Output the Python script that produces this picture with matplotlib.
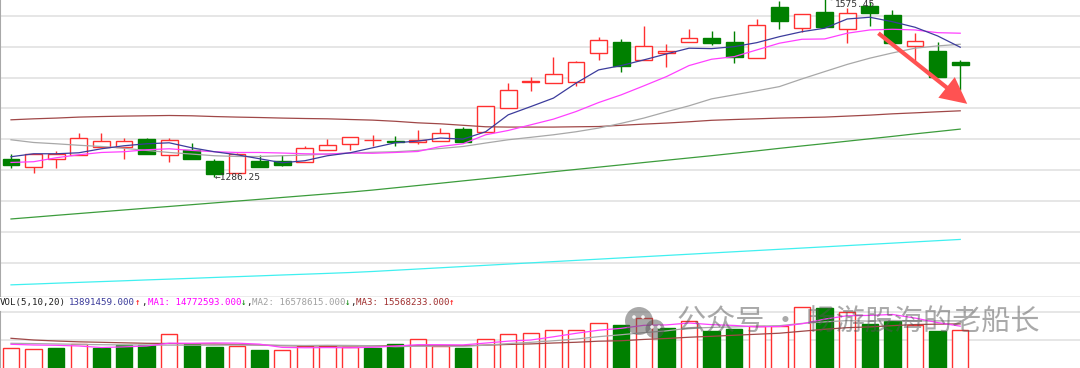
import numpy as np
import pandas as pd
import matplotlib
matplotlib.use('Agg')
import matplotlib.pyplot as plt
from matplotlib.patches import FancyArrowPatch, Circle
from matplotlib.transforms import IdentityTransform

# ---- values (price panel) ----
opens = [1315.4, 1301.6, 1315.4, 1321.9, 1334.9, 1334.9, 1347.8, 1321.9, 1330.0, 1312.2,
         1292.7, 1312.2, 1312.2, 1310.6, 1330.0, 1339.7, 1345.4, 1344.6, 1342.1, 1344.6,
         1364.0, 1359.2, 1398.5, 1439.3, 1438.5, 1439.7, 1486.7, 1505.4, 1475.3, 1487.6,
         1505.4, 1511.0, 1505.4, 1479.0, 1561.2, 1527.2, 1554.0, 1526.0, 1563.3, 1548.2,
         1498.0, 1489.9, 1472.6]
highs = [1323.5, 1323.5, 1328.4, 1357.5, 1357.5, 1349.4, 1349.4, 1349.4, 1341.3, 1315.4,
         1325.1, 1321.9, 1321.9, 1336.5, 1347.8, 1351.1, 1354.3, 1352.7, 1362.4, 1365.6,
         1367.3, 1401.3, 1439.0, 1448.7, 1480.2, 1474.7, 1512.6, 1509.3, 1530.9, 1501.7,
         1525.5, 1522.8, 1523.3, 1542.2, 1571.4, 1550.3, 1575.45, 1559.6, 1569.8, 1556.8,
         1519.1, 1505.0, 1475.8]
lows = [1300.8, 1292.3, 1300.8, 1321.9, 1334.9, 1315.4, 1323.5, 1310.6, 1315.4, 1286.25,
        1292.7, 1302.5, 1304.1, 1310.6, 1330.0, 1330.0, 1336.5, 1335.7, 1339.7, 1344.6,
        1342.1, 1359.2, 1398.5, 1425.6, 1438.5, 1433.7, 1475.3, 1456.8, 1475.3, 1464.0,
        1505.4, 1499.6, 1470.5, 1479.0, 1526.5, 1520.7, 1529.3, 1503.8, 1531.4, 1503.8,
        1470.5, 1447.8, 1427.2]
closes = [1305.7, 1323.5, 1322.5, 1349.4, 1344.6, 1344.0, 1323.5, 1346.2, 1315.4, 1291.1,
          1323.5, 1302.5, 1305.7, 1333.2, 1338.1, 1350.3, 1346.2, 1342.1, 1345.1, 1357.5,
          1342.1, 1401.3, 1427.2, 1441.0, 1452.6, 1472.6, 1508.7, 1466.1, 1498.5, 1490.9,
          1511.0, 1503.8, 1480.2, 1532.5, 1538.5, 1550.3, 1529.7, 1552.4, 1551.5, 1503.8,
          1506.1, 1447.8, 1468.2]

ma5 = [1318.7, 1323.5, 1323.5, 1325.1, 1331.6, 1336.5, 1339.7, 1341.3, 1333.2, 1326.8,
       1321.9, 1315.4, 1308.9, 1312.2, 1320.3, 1325.1, 1333.2, 1341.3, 1344.1, 1349.0,
       1347.3, 1359.2, 1386.7, 1400.1, 1413.8, 1438.1, 1459.6, 1466.6, 1475.8, 1485.5,
       1494.8, 1494.1, 1497.3, 1503.8, 1513.5, 1521.6, 1527.2, 1542.2, 1545.0, 1537.8,
       1528.8, 1514.7, 1496.4]
ma10 = [1309.4, 1310.6, 1317.0, 1321.9, 1325.6, 1326.8, 1330.0, 1331.6, 1328.9, 1326.8,
        1325.6, 1325.6, 1324.7, 1323.5, 1323.0, 1324.7, 1324.3, 1325.6, 1327.2, 1335.3,
        1339.7, 1354.3, 1361.3, 1370.5, 1379.7, 1392.0, 1406.6, 1419.1, 1433.7, 1448.7,
        1466.6, 1476.9, 1481.1, 1492.0, 1502.9, 1509.3, 1509.8, 1519.1, 1524.4, 1525.5,
        1524.4, 1520.0, 1519.1]
ma20 = [1346.2, 1341.8, 1339.7, 1337.3, 1335.3, 1332.4, 1328.9, 1325.6, 1323.0, 1320.3,
        1319.1, 1319.1, 1320.3, 1321.4, 1323.0, 1324.7, 1325.9, 1326.8, 1328.9, 1332.1,
        1335.3, 1340.9, 1346.2, 1350.2, 1354.3, 1359.2, 1365.2, 1372.9, 1381.4, 1391.6,
        1401.3, 1412.6, 1419.1, 1425.6, 1432.5, 1445.0, 1456.8, 1468.5, 1478.6, 1487.1,
        1494.8, 1498.5, 1501.2]
ma60 = [1378.6, 1380.2, 1381.4, 1383.0, 1383.9, 1384.6, 1385.1, 1385.6, 1385.1, 1383.9,
        1383.0, 1382.3, 1381.4, 1380.7, 1380.2, 1379.1, 1378.1, 1376.2, 1373.7, 1372.1,
        1369.7, 1367.3, 1366.8, 1366.8, 1366.8, 1367.3, 1367.7, 1369.7, 1371.6, 1373.3,
        1375.4, 1377.8, 1379.1, 1380.2, 1381.4, 1382.2, 1383.0, 1384.6, 1386.2, 1388.3,
        1389.9, 1391.6, 1393.2]
ma120 = [1217.7, 1220.6, 1223.6, 1226.5, 1229.4, 1232.3, 1235.2, 1238.0, 1240.9, 1243.8,
         1246.7, 1249.6, 1252.6, 1255.5, 1258.4, 1261.3, 1264.6, 1268.3, 1272.0, 1275.7,
         1279.5, 1283.2, 1286.9, 1290.6, 1294.4, 1298.1, 1301.8, 1305.5, 1309.3, 1313.0,
         1316.7, 1320.4, 1324.3, 1328.2, 1332.3, 1336.2, 1340.0, 1343.9, 1347.8, 1351.7,
         1355.8, 1359.6, 1363.5]
ma250 = [1110.8, 1112.1, 1113.5, 1114.8, 1116.1, 1117.4, 1118.8, 1120.1, 1121.4, 1122.8,
         1124.1, 1125.4, 1126.8, 1128.1, 1129.4, 1130.8, 1132.5, 1134.5, 1136.5, 1138.5,
         1140.5, 1142.5, 1144.5, 1146.5, 1148.5, 1150.5, 1152.5, 1154.5, 1156.5, 1158.5,
         1160.5, 1162.5, 1164.5, 1166.5, 1168.5, 1170.5, 1172.5, 1174.5, 1176.5, 1178.5,
         1180.5, 1182.5, 1184.5]

# ---- volume panel (millions) ----
volume_m = [8.83, 8.56, 8.99, 9.99, 8.83, 9.72, 9.72, 12.77, 9.91, 9.26,
            9.45, 8.37, 8.37, 9.45, 9.45, 9.26, 8.99, 9.99, 11.34, 9.45,
            8.99, 11.42, 12.61, 12.88, 13.77, 13.69, 15.58, 15.20, 16.93, 14.31,
            16.28, 13.37, 14.12, 14.93, 14.93, 19.90, 19.63, 18.71, 15.39, 16.20,
            15.04, 13.50, 13.89]
# moving averages before a full window exists
vol_ma5_head = [9.91, 9.72, 9.64, 9.45]
vol_ma10_head = [10.18, 10.10, 10.00, 9.90, 9.80, 9.75, 9.70, 9.68, 9.66]
vol_ma20_head = [11.53, 11.07, 10.80, 10.58, 10.45, 10.31, 10.18, 10.13, 10.04, 9.99,
                 9.86, 9.72, 9.53, 9.48, 9.47, 9.47, 9.48, 9.50, 9.52]

high_label = 1575.45
low_label = 1286.25
header_parts = [('VOL(5,10,20)', '#202020'), ('13891459.000', '#3a3a9a'), ('\u2191', '#ff0000'),
                (',', '#202020'), ('MA1: 14772593.000', '#ff00ff'), ('\u2193', '#008000'),
                (',', '#202020'), ('MA2: 16578615.000', '#a0a0a0'), ('\u2193', '#008000'),
                (',', '#202020'), ('MA3: 15568233.000', '#a03030'), ('\u2191', '#ff0000')]
header_px = [0, 69, 135, 141, 148, 240.5, 246.5, 252, 344.5, 350.5, 356, 449]
watermark = '公众号 · 畅游股海的老船长'

W, H = 1080, 368
RED = '#ff3030'
GREEN = '#008000'
fig = plt.figure(figsize=(W / 100, H / 100), dpi=100)

n = len(closes)
x = np.arange(n)
o, h, l, c = map(np.array, (opens, highs, lows, closes))
xlim = (-0.487, 47.3)

# price panel
ax = fig.add_axes([0, 71.5 / H, 1, 296.5 / H])
ax.set_xlim(*xlim)
ax.set_ylim(1091.9, 1573.0)
ax.set_yticks(np.arange(1147, 1548, 50))
ax.grid(axis='y', color='#e2e2e2', lw=1.2)
ax.set_axisbelow(True)
ax.tick_params(length=0, labelleft=False, labelbottom=False)
for s in ('top', 'right'):
    ax.spines[s].set_visible(False)
ax.spines['left'].set_color('#a8a8a8')
ax.spines['left'].set_linewidth(1.5)
ax.spines['bottom'].set_color('#a0a0a0')
ax.spines['bottom'].set_linewidth(1.0)

up = c >= o
cols = np.where(up, RED, GREEN)
ax.vlines(x, l, h, colors=cols, lw=1, zorder=2)
ax.bar(x, np.abs(c - o), bottom=np.minimum(o, c), width=0.74,
       facecolor=np.where(up, 'white', GREEN), edgecolor=cols, lw=1, zorder=3)

for vals, col in [(ma250, '#40f0f0'), (ma120, '#3c9c3c'), (ma60, '#a04848'),
                  (ma20, '#a8a8a8'), (ma10, '#ff40ff'), (ma5, '#3c3c9c')]:
    ax.plot(x, vals, color=col, lw=0.9, zorder=4)

imax = int(np.argmax(h))
imin = int(np.argmin(l))
ax.annotate(f'{high_label:.2f}', xy=(imax, high_label), xytext=(imax + 0.45, high_label - 9),
            fontsize=6.8, family='DejaVu Sans Mono', color='#333333', va='center', ha='left',
            arrowprops=dict(arrowstyle='-', color='#555555', lw=0.7, shrinkA=0, shrinkB=0),
            annotation_clip=False, zorder=6)
ax.text(imin, low_label - 1.7, f'\u2190{low_label:.2f}', fontsize=6.8, family='DejaVu Sans Mono',
        color='#333333', va='center', ha='left', zorder=6)

arrow = FancyArrowPatch((38.38, 1519.1), (42.31, 1404.5),
                        arrowstyle='simple,head_length=1.9,head_width=1.9,tail_width=0.3',
                        mutation_scale=10, color='#ff5252', lw=0, shrinkA=0, shrinkB=0, zorder=7)
ax.add_patch(arrow)

# volume panel
vax = fig.add_axes([0, 0, 1, 71 / H])
vax.set_xlim(*xlim)
vax.set_ylim(3.51, 22.68)
vax.set_yticks([11.07, 18.71])
vax.grid(axis='y', color='#e2e2e2', lw=1.2)
vax.set_axisbelow(True)
vax.tick_params(length=0, labelleft=False, labelbottom=False)
for s in ('top', 'right', 'bottom'):
    vax.spines[s].set_visible(False)
vax.spines['left'].set_color('#a8a8a8')
vax.spines['left'].set_linewidth(1.5)
vax.spines['left'].set_bounds(3.51, 18.71)

vol = np.array(volume_m)
prev = np.r_[c[0], c[:-1]]
vup = c >= prev
vax.bar(x, vol, width=0.72, facecolor=np.where(vup, 'white', GREEN),
        edgecolor=np.where(vup, RED, GREEN), lw=1, zorder=2)

sv = pd.Series(vol)
for per, head, col in [(20, vol_ma20_head, '#a04848'), (10, vol_ma10_head, '#a8a8a8'),
                       (5, vol_ma5_head, '#ff40ff')]:
    m = sv.rolling(per).mean().to_numpy()
    m[:per - 1] = head
    vax.plot(x, m, color=col, lw=0.9, zorder=4)

for (txt, col), px in zip(header_parts, header_px):
    fig.text(px / W, 1 - 302.5 / H, txt, fontsize=6.6, family='DejaVu Sans Mono',
             color=col, va='center', ha='left')

# watermark
fig.text(677 / W, 1 - 323 / H, watermark, fontsize=21, family=['Noto Sans CJK SC', 'DejaVu Sans'],
         color='#555555', alpha=0.5, va='center', ha='left', zorder=10)
icon = [((639, 321), 14, '#555555'), ((655, 329), 9.5, '#555555')]
for (cx, cy), r, col in icon:
    fig.patches.append(Circle((cx, H - cy), r, transform=IdentityTransform(),
                              facecolor=col, alpha=0.5, lw=0, zorder=10))
for ex, ey in [(634, 317), (643, 317), (652, 327), (659, 327)]:
    fig.patches.append(Circle((ex, H - ey), 1.8, transform=IdentityTransform(),
                              facecolor='white', alpha=0.9, lw=0, zorder=11))

fig.savefig('out.png', dpi=100)
